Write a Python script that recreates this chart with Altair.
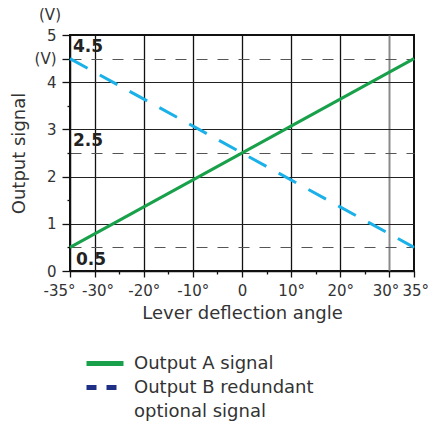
import altair as alt
import pandas as pd

# ---- data ----
angles = [-35, 35]
out_a = [0.5, 4.5]
out_b = [4.5, 0.5]
series = ["Output A signal", "Output B redundant"]
legend_lines = ["Output A signal", "Output B redundant", "optional signal"]
x_ticks = [-35, -30, -25, -20, -15, -10, -5, 0, 5, 10, 15, 20, 25, 30, 35]
y_ticks = [0, 0.5, 1, 1.5, 2, 2.5, 3, 3.5, 4, 4.5, 5]
marker_above = [4.5, 2.5]
marker_below = [0.5]

GREEN = "#18a04a"
CYAN = "#1ab0e8"
NAVY = "#1e2f86"
FONT = "DejaVu Sans"
TXT = "#333333"

df = pd.DataFrame({
    "angle": angles + angles,
    "signal": out_a + out_b,
    "series": [series[0]] * 2 + [series[1]] * 2,
})

xscale = alt.Scale(domain=[-35, 35], nice=False, zero=False)
yscale = alt.Scale(domain=[0, 5], nice=False)

x_axis = alt.Axis(
    values=x_ticks,
    title="Lever deflection angle",
    titleFontSize=18, titleFont=FONT, titleColor=TXT, titleFontWeight="normal", titlePadding=6,
    labelFontSize=15, labelFont=FONT, labelColor=TXT, labelPadding=6,
    labelExpr="(datum.value % 10 == 0 || abs(datum.value) == 35) ? (datum.value == 0 ? '0' : datum.value + '°') : ''",
    labelAlign={"condition": [{"test": "datum.value == -35", "value": "right"},
                              {"test": "datum.value == 35", "value": "left"}], "value": "center"},
    labelOffset={"condition": [{"test": "datum.value == -35", "value": 5},
                               {"test": "datum.value == 35", "value": -12},
                               {"test": "datum.value == 30", "value": -4},
                               {"test": "datum.value == -30", "value": 3}], "value": 0},
    labelOverlap=False, labelFlush=False,
    tickSize={"condition": {"test": "datum.value % 10 != 0 && abs(datum.value) != 35", "value": 3}, "value": 6},
    tickColor="#111", tickWidth=1.3,
    domainColor="#111", domainWidth=1.5,
    grid=True,
    gridOpacity={"condition": {"test": "datum.value % 10 == 0 && abs(datum.value) < 35", "value": 1}, "value": 0},
    gridColor={"condition": {"test": "datum.value == 30", "value": "#8a8a8a"}, "value": "#111"},
    gridWidth={"condition": {"test": "datum.value == 30", "value": 2}, "value": 1.3},
)

y_axis = alt.Axis(
    values=y_ticks,
    title="Output signal",
    titleFontSize=18, titleFont=FONT, titleColor=TXT, titleFontWeight="normal", titlePadding=6,
    labelFontSize=15, labelFont=FONT, labelColor=TXT, labelPadding=6,
    labelExpr="datum.value == 4.5 ? '(V)' : (datum.value % 1 == 0 ? '' + datum.value : '')",
    labelOverlap=False, labelFlush=False,
    tickSize={"condition": {"test": "datum.value % 1 != 0 && datum.value != 4.5", "value": 3}, "value": 8},
    tickColor="#111", tickWidth=1.3,
    domainColor="#111", domainWidth=1.5,
    grid=True,
    gridOpacity={"condition": {"test": "datum.value == 1.5 || datum.value == 3.5 || datum.value == 0 || datum.value == 5", "value": 0}, "value": 1},
    gridColor={"condition": {"test": "datum.value % 1 != 0", "value": "#555"}, "value": "#222"},
    gridDash={"condition": {"test": "datum.value % 1 != 0", "value": [11, 10]}, "value": []},
    gridWidth=1.2,
)

legend = alt.Legend(
    title=None, orient="none", legendX=22.5, legendY=316,
    symbolType="M-1.85,0H1.85", symbolSize=400, symbolStrokeWidth=5, symbolOpacity=1,
    labelFontSize=18, labelFont=FONT, labelColor=TXT, labelOffset=16.5,
    labelLimit=300, rowPadding=1,
)

X = lambda f: alt.X(f, scale=xscale, axis=x_axis)
Y = lambda f: alt.Y(f, scale=yscale, axis=y_axis)

base = alt.Chart(df)

line_a = base.transform_filter(alt.datum.series == series[0]).mark_line(
    strokeWidth=3, strokeCap="butt", color=GREEN
).encode(x=X("angle:Q"), y=Y("signal:Q"))

line_b = base.transform_filter(alt.datum.series == series[1]).mark_line(
    strokeWidth=3, strokeCap="butt", color=CYAN, strokeDash=[20, 14]
).encode(x=X("angle:Q"), y=Y("signal:Q"))

legend_layer = base.mark_line(opacity=0).encode(
    x=X("angle:Q"), y=Y("signal:Q"),
    color=alt.Color("series:N", scale=alt.Scale(domain=legend_lines,
                                                range=[GREEN, NAVY, "rgba(0,0,0,0)"]), legend=legend),
    strokeDash=alt.StrokeDash("series:N", scale=alt.Scale(domain=legend_lines,
                                                          range=[[1, 0], [10, 10], [1, 0]]),
                              legend=legend),
)

above = alt.Chart(pd.DataFrame({"v": marker_above, "x": [-35] * len(marker_above)})).mark_text(
    align="left", baseline="bottom", dx=3, dy=-3, fontSize=17, fontWeight="bold", font=FONT, color="#222"
).encode(x=X("x:Q"), y=Y("v:Q"), text=alt.Text("v:Q", format=".1f"))

below = alt.Chart(pd.DataFrame({"v": marker_below, "x": [-35] * len(marker_below)})).mark_text(
    align="left", baseline="top", dx=6, dy=5, fontSize=17, fontWeight="bold", font=FONT, color="#222"
).encode(x=X("x:Q"), y=Y("v:Q"), text=alt.Text("v:Q", format=".1f"))

unit = alt.Chart(pd.DataFrame({"x": [-35], "y": [5], "t": ["(V)"]})).mark_text(
    align="center", baseline="middle", dx=-20, dy=-20, fontSize=15, font=FONT, color=TXT
).encode(x=X("x:Q"), y=Y("y:Q"), text="t:N")

chart = alt.layer(legend_layer, line_a, line_b, above, below, unit).properties(
    width=344, height=236,
    autosize=alt.AutoSizeParams(type="none"),
    padding={"left": 62, "top": 27, "right": 14, "bottom": 151},
    title=alt.TitleParams("Output signal", fontSize=22, font=FONT, fontWeight="bold", color=TXT,
                          anchor="middle", frame="group", baseline="alphabetic", offset=0, dy=-31),
).configure_view(stroke="#111", strokeWidth=2)

chart.save("out.html", embed_options={"renderer": "svg", "actions": False})
